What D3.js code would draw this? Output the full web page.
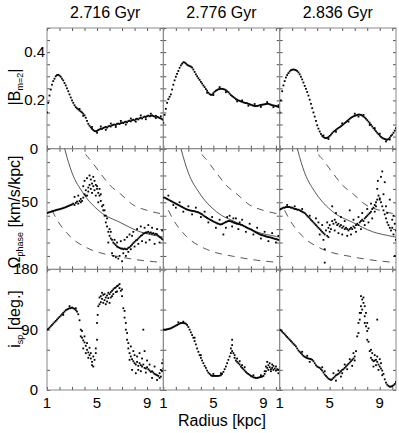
<!DOCTYPE html>
<html>
<head>
<meta charset="utf-8">
<script src="https://cdn.jsdelivr.net/npm/d3@7"></script>
<style>
  body { margin: 0; background: #fff; }
  svg { display: block; font-family: "Liberation Sans", Arial, sans-serif; }
</style>
</head>
<body>
<div id="app"></div>
<script>
// radius grid of the profiles (kpc)
const radius = [
  1.0,1.1,1.2,1.3,1.4,1.5,1.6,1.7,1.8,1.9,
  2.0,2.1,2.2,2.3,2.4,2.5,2.6,2.7,2.8,2.9,
  3.0,3.1,3.2,3.3,3.4,3.5,3.6,3.7,3.8,3.9,
  4.0,4.1,4.2,4.3,4.4,4.5,4.6,4.7,4.8,4.9,
  5.0,5.1,5.2,5.3,5.4,5.5,5.6,5.7,5.8,5.9,
  6.0,6.1,6.2,6.3,6.4,6.5,6.6,6.7,6.8,6.9,
  7.0,7.1,7.2,7.3,7.4,7.5,7.6,7.7,7.8,7.9,
  8.0,8.1,8.2,8.3,8.4,8.5,8.6,8.7,8.8,8.9,
  9.0,9.1,9.2,9.3,9.4,9.5,9.6,9.7,9.8,9.9,
  10.0,10.1,10.2,10.3]

const times = ['2.716 Gyr', '2.776 Gyr', '2.836 Gyr']

// |B_m=2|
const bar2716 = [
  0.150,0.190,0.220,0.245,0.265,0.280,0.290,0.300,0.305,0.306,
  0.303,0.298,0.290,0.283,0.272,0.262,0.250,0.238,0.225,0.212,
  0.200,0.190,0.180,0.172,0.167,0.163,0.158,0.154,0.150,0.145,
  0.138,0.128,0.115,0.103,0.095,0.088,0.082,0.077,0.073,0.072,
  0.074,0.077,0.080,0.083,0.082,0.086,0.088,0.090,0.087,0.092,
  0.094,0.092,0.097,0.099,0.100,0.098,0.103,0.104,0.102,0.106,
  0.108,0.106,0.110,0.112,0.109,0.114,0.116,0.113,0.118,0.120,
  0.117,0.122,0.124,0.121,0.126,0.128,0.125,0.130,0.133,0.131,
  0.135,0.137,0.134,0.136,0.138,0.135,0.133,0.136,0.132,0.130,
  0.127,0.125,0.122,0.118]
const bar2776 = [
  0.107,0.140,0.165,0.190,0.205,0.215,0.225,0.245,0.265,0.283,
  0.298,0.310,0.322,0.335,0.345,0.352,0.358,0.357,0.353,0.348,
  0.345,0.342,0.340,0.336,0.328,0.318,0.308,0.300,0.292,0.285,
  0.277,0.270,0.262,0.255,0.247,0.240,0.232,0.226,0.223,0.224,
  0.230,0.236,0.240,0.243,0.246,0.247,0.248,0.248,0.247,0.245,
  0.242,0.238,0.234,0.228,0.222,0.218,0.214,0.210,0.205,0.203,
  0.200,0.198,0.196,0.194,0.192,0.190,0.189,0.188,0.186,0.184,
  0.182,0.180,0.178,0.177,0.176,0.177,0.178,0.180,0.181,0.182,
  0.183,0.184,0.185,0.186,0.186,0.184,0.182,0.180,0.179,0.178,
  0.177,0.175,0.173,0.170]
const bar2836 = [
  0.150,0.200,0.238,0.262,0.280,0.295,0.305,0.313,0.320,0.325,
  0.327,0.328,0.327,0.325,0.322,0.316,0.308,0.298,0.287,0.274,
  0.260,0.248,0.235,0.220,0.203,0.186,0.168,0.150,0.133,0.115,
  0.097,0.083,0.071,0.061,0.053,0.048,0.045,0.044,0.045,0.048,
  0.053,0.058,0.064,0.070,0.074,0.078,0.082,0.086,0.089,0.093,
  0.097,0.101,0.106,0.110,0.115,0.120,0.124,0.128,0.131,0.134,
  0.136,0.138,0.140,0.141,0.141,0.140,0.137,0.133,0.129,0.124,
  0.118,0.112,0.106,0.099,0.092,0.085,0.078,0.072,0.066,0.060,
  0.054,0.049,0.045,0.042,0.040,0.038,0.037,0.040,0.046,0.053,
  0.058,0.066,0.075,0.085]

// scattered points off the main track [radius, value]
const barExtra2716 = [[5.3,0.092],[5.7,0.078],[6.1,0.104],[6.5,0.09],[6.9,0.115],[7.3,0.1],[7.7,0.125],[8.1,0.112],
  [8.5,0.138],[8.9,0.122],[9.3,0.145],[9.7,0.127],[10.1,0.134],[3.6,0.165],[3.9,0.136],[4.6,0.09],[5.0,0.066]]
const barExtra2776 = [[5.5,0.255],[6.0,0.234],[6.9,0.196],[7.3,0.2],[7.8,0.178],[8.3,0.185],[8.8,0.173],[9.3,0.193],
  [9.8,0.172],[10.2,0.18],[4.5,0.232],[5.0,0.222]]
const barExtra2836 = [[5.5,0.07],[6.0,0.105],[6.5,0.112],[7.0,0.145],[7.3,0.133],[7.7,0.14],[8.2,0.098],[8.6,0.085],
  [9.0,0.062],[9.5,0.03],[9.8,0.038],[4.5,0.055],[4.9,0.04]]

// pattern speed (km/s/kpc)
const omega2716 = [
  42,42.3,42.6,42.9,43.2,43.5,43.8,44.1,44.4,44.6,
  44.8,45.1,45.4,45.7,46,46.4,46.8,47.2,47.6,48,
  48.4,49,48,49.5,50.5,49,51,52.5,51,53.5,
  56,59,55,61,63,60,64,62,59,63,
  60,57,55,51,47,44,40,35,32,28,
  25,23,22,20,19,18,17,16.5,16,15.5,
  15.5,15,15.5,15,15,16,16.5,17.5,18.5,19.5,
  20.5,21.5,22,23,24,25,25.5,26.5,27,27.5,
  27.5,28,27,27.5,26.5,27,26,26.5,26,25,
  24,23.5,22.5,22]
const omega2776 = [
  53.5,53.5,53,52.5,52,51.5,51,50.5,50,49.5,
  49,48.5,48,47.5,47,46.5,46,45.5,45,44.6,
  44.3,44,43.8,43.6,43.5,43.3,43,42.8,42.5,42,
  41.5,41,40.2,39.5,39,38.3,37.8,37.2,36.8,36.2,
  35.7,35.2,34.8,34.3,34,33.6,33.5,33.8,34.3,34.8,
  35.3,35.7,36,36,35.8,35.4,35,34.6,34.3,34,
  33.8,33.6,33.3,33,32.5,32,31.5,31,30.5,30.2,
  29.8,29.3,28.7,28.1,27.6,27.1,26.6,26.1,25.8,25.5,
  25.2,24.9,24.6,24.3,24.1,23.9,23.7,23.4,23.1,22.8,
  22.6,22.3,22,21.7]
const omega2836 = [
  44.5,45,45.5,46,46,46.5,46.5,46.5,46.5,46,
  46,45.5,45,45,44.5,44.5,44,43.5,43,42.5,
  42,41,40,39,38,37,36,35,34,33,
  32,31,30,29,28,27,26,29,25,31,
  33,30,36,34,37,35,33,34,32,33,
  31,32,30,31,30,29,30,31,30,32,
  31,33,34,33,35,36,37,36,38,39,
  40,41,42,43,45,46,48,50,52,55,
  53,50,47,44,41,38,35,33,31,29,
  31,26,34,29]

const omegaExtra2716 = [[3.9,62],[4.0,66],[4.1,55],[4.2,68],[4.3,58],[4.4,70],[4.5,67],[4.6,57],[4.7,69],[4.8,66],
  [4.9,55],[5.0,62],[5.1,50],[5.2,60],[5.3,56],[5.5,48],[5.6,44],[5.7,40],[5.8,38],[5.9,20],[6.0,30],[6.1,28],
  [6.2,12],[6.3,10],[6.4,22],[6.5,9],[6.6,20],[6.7,8],[6.8,10],[6.9,21],[7.0,6],[7.1,12],[7.2,22],[7.3,10],
  [7.4,24],[7.5,13],[7.6,26],[7.7,15],[7.8,25],[7.9,28],[8.0,17],[8.2,30],[8.3,19],[8.5,32],[8.6,21],[8.8,31],
  [8.9,20],[9.1,33],[9.2,22],[9.4,31],[9.6,19],[9.8,30],[10.0,20],[10.2,29],[3.5,55],[3.7,50],[3.2,54]]
const omegaExtra2776 = [[2.0,46],[2.3,50],[2.6,43],[3.0,47],[3.3,41],[3.6,46],[4.0,39],[4.3,43],[4.6,35],[4.9,39],
  [5.2,31],[5.5,37],[5.8,26],[6.1,39],[6.3,40],[6.5,32],[6.8,38],[7.0,30],[7.3,37],[7.6,28],[7.9,34],[8.2,26],
  [8.5,31],[8.8,23],[9.1,28],[9.4,21],[9.7,27],[10.0,20],[10.2,25],[1.4,55],[1.8,48],[6.0,31],[6.6,38],[7.1,35]]
const omegaExtra2836 = [[3.9,38],[4.1,35],[4.2,26],[4.4,33],[4.5,22],[4.6,15],[4.6,5],[4.8,35],[4.9,24],[5.0,28],
  [5.2,47],[5.4,29],[5.5,42],[5.7,27],[5.9,39],[6.0,26],[6.2,36],[6.4,25],[6.6,44],[6.7,26],[6.9,37],[7.1,28],
  [7.3,39],[7.5,30],[7.6,42],[7.8,33],[8.0,45],[8.1,35],[8.3,49],[8.4,38],[8.6,43],[8.7,47],[8.8,60],[8.85,66],
  [9.0,52],[9.1,69],[9.2,73],[9.3,56],[9.4,65],[9.5,47],[9.6,42],[9.8,52],[10.0,37],[10.1,40],[10.2,10],[10.3,22],
  [1.6,48],[2.2,47],[2.8,45],[3.4,40]]

// spiral inclination (deg.)
const incl2716 = [
  90,91,93,95,97,99,101,103,105,107,
  109,111,113,115,117,119,120,121,122,122,
  123,122,121,119,117,113,104,90,78,74,
  71,66,60,56,52,47,42,35,45,55,
  75,125,138,140,136,142,134,138,141,137,
  143,146,148,150,152,153,155,156,152,148,
  140,122,108,90,75,62,55,50,46,43,
  40,38,42,36,40,37,35,38,33,32,
  34,31,29,27,28,26,24,23,22,21,
  25,30,28,32]
const incl2776 = [
  90,90,90,90.5,91,91.5,92,93,94,95,
  96,97,98,99,100,100,100,99.5,99,97,
  94,90,86,82,78,73,68,62,57,52,
  48,44,40,36,33,29,26,24,22,21,
  21,21,21,21,21,21.5,22,24,27,31,
  35,40,45,50,55,58,55,48,44,42,
  40,38,35,33,31,29,27,25,24,22.5,
  21,20,19,18.5,18,18,18.5,19,19.5,20,
  21,24,28,33,37,34,31,33,30,32,
  29,31,30,32]
const incl2836 = [
  90,89,87,85,83,81,79,77,75,73,
  71,69,67,65,62,59,57,55,53,51,
  49.5,48.5,47.5,47,46.5,46,45,43,40,37,
  35,34,33,31,29,26,23,21,19,17,
  16,15,16,18,20,22,23,24,26,28,
  30,31,33,35,37,39,41,43,45,47,
  50,58,80,100,115,125,135,130,110,95,
  88,72,58,48,45,43,44,45,42,38,
  35,32,29,24,16,11,8,6,5,5,
  6,7,9,12]

const inclExtra2716 = [[3.7,80],[3.8,88],[3.9,62],[4.0,80],[4.1,55],[4.2,70],[4.3,48],[4.4,63],[4.5,55],[4.6,37],
  [4.7,50],[4.9,62],[5.0,100],[5.05,112],[5.2,128],[5.3,131],[5.4,145],[5.5,130],[5.6,143],[5.7,128],[5.8,132],
  [5.9,145],[6.0,130],[6.1,138],[6.2,140],[6.3,143],[6.5,146],[6.6,147],[6.8,158],[7.0,150],[7.2,118],[7.3,100],
  [7.4,85],[7.5,70],[7.6,45],[7.7,65],[7.8,30],[7.9,58],[8.0,52],[8.1,25],[8.2,50],[8.3,30],[8.4,55],[8.5,28],
  [8.7,90],[8.6,47],[8.8,58],[8.9,26],[9.0,44],[9.2,38],[9.4,18],[9.6,35],[9.8,15],[10.0,18],[10.1,20],
  [10.2,40],[10.3,45],[2.3,112],[2.8,125],[3.3,122]]
const inclExtra2776 = [[6.4,62],[6.5,67],[6.5,75],[6.7,52],[6.9,47],[7.1,43],[7.3,37],[7.5,34],[9.2,35],[9.3,42],
  [9.4,30],[9.5,40],[9.6,28],[9.8,36],[10.0,35],[10.2,25],[3.5,78],[4.0,52],[5.0,24],[5.6,25],[8.2,22],[8.8,22],
  [2.2,101],[2.6,102],[9.1,28],[9.7,38]]
const inclExtra2836 = [[7.3,85],[7.4,105],[7.5,140],[7.5,115],[7.6,120],[7.7,138],[7.8,100],[7.8,125],[7.9,115],
  [8.0,100],[8.1,92],[8.0,75],[8.3,60],[8.4,55],[8.5,35],[8.6,52],[8.7,37],[8.8,105],[8.8,50],[8.9,30],[9.0,46],
  [9.1,40],[9.2,22],[6.0,25],[6.2,38],[6.4,31],[6.6,46],[6.8,36],[5.3,25],[5.5,14],[5.7,29],[5.9,20],[4.4,34],
  [4.6,28],[3.4,42],[3.2,51],[2.8,57],[6.9,55],[7.0,44]]

// rotation curve and resonance curves (km/s/kpc)
const omegaCurveR = [2.2, 2.44, 3.0, 3.88, 5.24, 6.84, 8.44, 10.04, 10.4]
const omegaCurveV = [98, 89, 72, 57, 43, 35, 28, 24.5, 23.8]
const outerCurveR = [3.8, 4.04, 4.44, 5.24, 6.0, 6.9, 7.9, 9.0, 10.4]
const outerCurveV = [95, 87, 82, 72, 63, 56, 48, 44, 41]
const innerCurveR = [1.4, 1.8, 2.84, 4.2, 5.0, 6.6, 8.0, 10.4]
const innerCurveV = [44, 37, 24.6, 16, 13, 9.7, 7.4, 5]

const xTickLabels = [1, 5, 9]
const bTickValues = [0, 0.2, 0.4]
const bTickLabels = ['0', '0.2', '0.4']
const omegaTickValues = [50]
const omegaTickLabels = ['50']
const inclTickValues = [0, 90, 180]
const inclTickLabels = ['0', '90', '180']

const W = 399, H = 433
const padLeft = 47, padRight = 396, padTop = 28, padBottom = 390
const colW = (padRight - padLeft) / 3
const rowH = (padBottom - padTop) / 3

const svg = d3.select('#app').append('svg').attr('width', W).attr('height', H)

const rows = [
  { domain: [0, 0.5], series: [bar2716, bar2776, bar2836], extra: [barExtra2716, barExtra2776, barExtra2836], minor: 0.05,
    tickValues: bTickValues, tickLabels: bTickLabels },
  { domain: [0, 90], series: [omega2716, omega2776, omega2836], extra: [omegaExtra2716, omegaExtra2776, omegaExtra2836], minor: 10,
    tickValues: omegaTickValues, tickLabels: omegaTickLabels },
  { domain: [0, 180], series: [incl2716, incl2776, incl2836], extra: [inclExtra2716, inclExtra2776, inclExtra2836], minor: 30,
    tickValues: inclTickValues, tickLabels: inclTickLabels }
]

const line = d3.line().curve(d3.curveMonotoneX)

rows.forEach(function(row, r) {
  const y0 = padTop + r * rowH
  const y = d3.scaleLinear().domain(row.domain).range([y0 + rowH, y0])
  const yTicks = d3.range(row.domain[0], row.domain[1] + row.minor / 2, row.minor)

  for (let c = 0; c < 3; c++) {
    const x0 = padLeft + c * colW
    const x = d3.scaleLinear().domain([1, 10.3]).range([x0, x0 + colW])
    const g = svg.append('g')
    const clipId = 'clip' + r + c
    svg.append('clipPath').attr('id', clipId)
       .append('rect').attr('x', x0).attr('y', y0).attr('width', colW).attr('height', rowH)

    // ticks on all four sides, pointing inward
    const xt = d3.range(1, 11, 1)
    g.append('g').attr('transform', 'translate(0,' + y0 + ')')
      .call(d3.axisTop(x).tickValues(xt).tickSizeInner(-3).tickSizeOuter(0).tickFormat(''))
    g.append('g').attr('transform', 'translate(0,' + (y0 + rowH) + ')')
      .call(d3.axisBottom(x).tickValues(xt).tickSizeInner(-3).tickSizeOuter(0).tickFormat(''))
    g.append('g').attr('transform', 'translate(' + x0 + ',0)')
      .call(d3.axisLeft(y).tickValues(yTicks).tickSizeInner(-3).tickSizeOuter(0).tickFormat(''))
    g.append('g').attr('transform', 'translate(' + (x0 + colW) + ',0)')
      .call(d3.axisRight(y).tickValues(yTicks).tickSizeInner(-3).tickSizeOuter(0).tickFormat(''))
    g.selectAll('.domain').remove()
    g.selectAll('.tick line').attr('stroke', '#555')

    g.append('rect')
      .attr('x', x0).attr('y', y0).attr('width', colW).attr('height', rowH)
      .attr('fill', 'none').attr('stroke', '#8a8a8a').attr('stroke-width', 1)

    const pg = svg.append('g').attr('clip-path', 'url(#' + clipId + ')')

    if (r === 1) {
      const curves = [[omegaCurveR, omegaCurveV, null], [outerCurveR, outerCurveV, '7,6'], [innerCurveR, innerCurveV, '7,6']]
      curves.forEach(function(cv) {
        pg.append('path')
          .attr('d', line(cv[0].map((v, i) => [x(v), y(cv[1][i])])))
          .attr('fill', 'none').attr('stroke', '#444').attr('stroke-width', 0.9)
          .attr('stroke-dasharray', cv[2])
      })
    }

    const pts = radius.map((v, i) => [v, row.series[c][i]]).concat(row.extra[c])
    pg.selectAll('rect.pt').data(pts).enter().append('rect')
      .attr('class', 'pt')
      .attr('x', d => x(d[0]) - 0.9).attr('y', d => y(d[1]) - 0.9)
      .attr('width', 1.8).attr('height', 1.8)
      .attr('fill', '#000')

    if (r === 2) {
      xTickLabels.forEach(function(v) {
        svg.append('text').attr('x', x(v)).attr('y', 408)
          .attr('text-anchor', 'middle').style('font-size', '15px').text(v)
      })
    }
    if (r === 0) {
      svg.append('text').attr('x', x0 + colW / 2).attr('y', 18)
        .attr('text-anchor', 'middle').style('font-size', '16px').text(times[c])
    }
  }

  // y tick labels
  row.tickValues.forEach(function(v, i) {
    const lx = (r === 0 && v !== 0) ? 45 : 38
    svg.append('text').attr('x', lx).attr('y', y(v) + 5)
      .attr('text-anchor', 'end').style('font-size', '15px').text(row.tickLabels[i])
  })
})

// axis titles
function yTitle(cx, cy, main, sub, rest) {
  const t = svg.append('text').attr('transform', 'translate(' + cx + ',' + cy + ') rotate(-90)')
    .attr('text-anchor', 'middle').style('font-size', '16px')
  t.append('tspan').text(main)
  t.append('tspan').attr('dy', 3).style('font-size', '9px').text(sub)
  t.append('tspan').attr('dy', -3).text(rest)
}
yTitle(20, 87, '|B', 'm=2', '|')
yTitle(20, 212, 'Ω', 'phase', ' [km/s/kpc]')
yTitle(20, 319, 'i', 'sp', ' [deg.]')

svg.append('text').attr('x', 222).attr('y', 426)
  .attr('text-anchor', 'middle').style('font-size', '16px').text('Radius [kpc]')
</script>
</body>
</html>
